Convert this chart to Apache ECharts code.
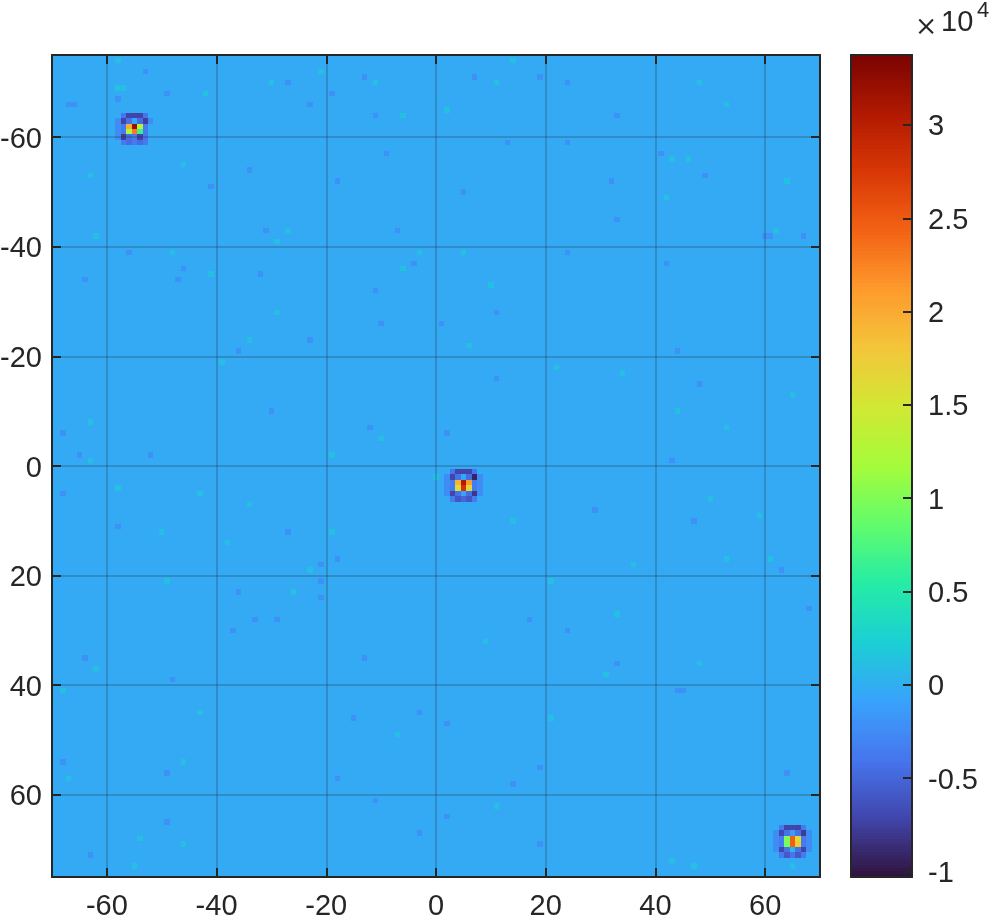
<!DOCTYPE html>
<html>
<head>
<meta charset="utf-8">
<title>heatmap</title>
<script src="https://cdn.jsdelivr.net/npm/echarts@6/dist/echarts.min.js"></script>
<style>
  html, body { margin: 0; padding: 0; background: #fff; }
  #main { width: 997px; height: 922px; }
</style>
</head>
<body>
<div id="main"></div>
<script>
// values are in units of 10^4, as on the colorbar
const xTicks = [-60, -40, -20, 0, 20, 40, 60];
const yTicks = [-60, -40, -20, 0, 20, 40, 60];
const barTicks = [-1, -0.5, 0, 0.5, 1, 1.5, 2, 2.5, 3];
const xRange = [-70, 70];
const yRange = [-75, 75];
const valueRange = [-1.03, 3.375];

// background level, and the cells that stand out from it in the picture
const baseLevel = -0.03;
const warmLevel = 0.12;
const coolLevel = -0.2;

// only the cells clear enough to read, the rest of the noise is left flat
const warmCells = [
  [-58,-74],[-58,-69],[-57,-69],[-42,-68],[-30,-70],[-11,-70],[-27,-43],[-29,-41],[-3,-39],[-6,-36],
  [-29,-28],[-34,-23],[-39,-19],[-63,-8],[-10,-5],[-63,-1],[-19,-2],[-63,-53],[-41,-35],[-48,-39],
  [-6,-64],[-46,-55],[-21,-72],[-62,-42],
  [14,-74],[2,-65],[11,-70],[48,-70],[53,-66],[43,-56],[46,-56],[64,-52],[42,-49],[62,-43],
  [10,-33],[22,-18],[65,-13],[34,-17],[53,-7],[44,-10],[6,-22],[5,-39],
  [-58,4],[-43,5],[-34,7],[-50,12],[-38,14],[-19,12],[-49,21],[-26,23],[-62,37],[-68,41],
  [-43,45],[-7,49],[-46,54],[-67,57],[-55,73],[-46,69],[0,2],[-23,19],[-54,68],
  [53,17],[36,18],[21,21],[14,10],[50,6],[33,27],[31,38],[48,36],[21,46],[11,62],
  [65,73],[47,73],[43,72],[9,32],[59,9],[61,17]
];
const coolCells = [
  [-67,-66],[-66,-66],[-58,-67],[-53,-72],[-49,-68],[-27,-70],[-23,-66],[-19,-68],[-13,-71],[-11,-64],
  [-34,-54],[-9,-57],[-18,-52],[-41,-51],[-31,-43],[-7,-43],[-46,-36],[-47,-34],[-32,-35],[-64,-34],
  [-11,-32],[-36,-21],[-23,-23],[-10,-26],[-30,-10],[-12,-7],[-65,-2],[-52,-2],[-68,-6],[-4,-37],[-56,-39],
  [7,-71],[19,-71],[24,-70],[33,-64],[13,-59],[24,-59],[41,-57],[49,-53],[32,-52],[5,-50],
  [33,-45],[60,-42],[61,-42],[67,-42],[24,-39],[42,-37],[11,-16],[48,-15],[2,-6],[1,-26],
  [11,-28],[44,-21],[43,-1],
  [-68,5],[-58,11],[-27,12],[-21,18],[-21,21],[-18,17],[-21,24],[-36,23],[-33,28],[-29,28],
  [-64,35],[-13,35],[-48,39],[-15,46],[-3,45],[-68,54],[-49,56],[-18,57],[-49,65],[-63,71],
  [-11,61],[-3,67],[-37,30],
  [17,28],[24,30],[33,36],[44,41],[45,41],[64,56],[19,55],[14,58],[2,47],[68,26],
  [29,8],[47,10],[63,19],[19,69],[2,64]
];

// the three peaks, read cell by cell
const peakTopLeft = [
  [-57,-64,-0.4],[-56,-64,-0.72],[-55,-64,-0.72],[-54,-64,-0.72],[-53,-64,-0.4],
  [-58,-63,-0.24],[-57,-63,-0.72],[-56,-63,-0.42],[-55,-63,-0.05],[-54,-63,-0.45],[-53,-63,-0.75],[-52,-63,-0.24],
  [-58,-62,-0.24],[-57,-62,-0.35],[-56,-62,2.0],[-55,-62,3.2],[-54,-62,1.3],[-53,-62,-0.35],
  [-58,-61,-0.24],[-57,-61,-0.35],[-56,-61,1.25],[-55,-61,2.3],[-54,-61,0.65],[-53,-61,-0.35],
  [-58,-60,-0.24],[-57,-60,-0.75],[-56,-60,-0.45],[-55,-60,-0.35],[-54,-60,-0.72],[-53,-60,-0.4],
  [-57,-59,-0.35],[-56,-59,-0.45],[-55,-59,-0.35],[-54,-59,-0.45],[-53,-59,-0.35]
];
const peakCentre = [
  [3,1,-0.4],[4,1,-0.72],[5,1,-0.72],[6,1,-0.72],[7,1,-0.4],
  [2,2,-0.24],[3,2,-0.72],[4,2,-0.42],[5,2,-0.05],[6,2,-0.45],[7,2,-0.92],[8,2,-0.24],
  [2,3,-0.24],[3,3,-0.35],[4,3,1.95],[5,3,3.05],[6,3,2.1],[7,3,-0.35],[8,3,-0.24],
  [2,4,-0.24],[3,4,-0.35],[4,4,1.6],[5,4,2.8],[6,4,1.65],[7,4,-0.35],[8,4,-0.24],
  [2,5,-0.24],[3,5,-0.72],[4,5,-0.42],[5,5,-0.1],[6,5,-0.45],[7,5,-0.8],[8,5,-0.24],
  [3,6,-0.35],[4,6,-0.6],[5,6,-0.5],[6,6,-0.6],[7,6,-0.35]
];
const peakBottomRight = [
  [63,66,-0.35],[64,66,-0.72],[65,66,-0.7],[66,66,-0.72],[67,66,-0.35],
  [62,67,-0.24],[63,67,-0.7],[64,67,-0.42],[65,67,-0.12],[66,67,-0.42],[67,67,-0.78],[68,67,-0.24],
  [62,68,-0.24],[63,68,-0.35],[64,68,1.0],[65,68,2.45],[66,68,1.6],[67,68,-0.35],[68,68,-0.24],
  [62,69,-0.24],[63,69,-0.35],[64,69,0.95],[65,69,2.45],[66,69,1.75],[67,69,-0.35],[68,69,-0.24],
  [62,70,-0.24],[63,70,-0.7],[64,70,-0.42],[65,70,0.05],[66,70,-0.42],[67,70,-0.72],[68,70,-0.24],
  [63,71,-0.35],[64,71,-0.58],[65,71,-0.4],[66,71,-0.58],[67,71,-0.35]
];

const turbo = ["#30123b","#4145ab","#4675ed","#39a2fc","#1bcfd4","#24eca6","#61fc6c","#a4fc3b","#d1e834","#f3c63a","#fe9b2d","#f36315","#d93806","#b11901","#7a0402"];

const textColor = "#262626";
const labelFont = "Liberation Sans";
const labelSize = 29;

// put the read cells into one table
const readCells = {};
warmCells.forEach(c => { readCells[c[0] + "," + c[1]] = warmLevel; });
coolCells.forEach(c => { readCells[c[0] + "," + c[1]] = coolLevel; });
[peakTopLeft, peakCentre, peakBottomRight].forEach(p => {
  p.forEach(c => { readCells[c[0] + "," + c[1]] = c[2]; });
});

const cells = [];
for (let y = yRange[0]; y <= yRange[1]; y++) {
  for (let x = xRange[0]; x <= xRange[1]; x++) {
    const v = readCells[x + "," + y];
    cells.push([x, y, v === undefined ? baseLevel : v]);
  }
}

// colorbar strip, one entry per colormap level
const barStep = (valueRange[1] - valueRange[0]) / 256;
const barLevels = [];
for (let i = 0; i < 256; i++) {
  const level = valueRange[0] + barStep * (i + 0.5);
  barLevels.push([0, level, level]);
}

function drawCell(params, api) {
  const x = api.value(0), y = api.value(1);
  const a = api.coord([x - 0.5, y - 0.5]);
  const b = api.coord([x + 0.5, y + 0.5]);
  const left = Math.round(a[0]), top = Math.round(a[1]);
  return {
    type: "rect",
    shape: { x: left, y: top, width: Math.round(b[0]) - left, height: Math.round(b[1]) - top },
    style: { fill: api.visual("color") }
  };
}

function drawBarLevel(params, api) {
  const a = api.coord([0, api.value(1) + barStep / 2]);
  const b = api.coord([1, api.value(1) - barStep / 2]);
  const top = Math.floor(a[1]);
  return {
    type: "rect",
    shape: { x: a[0], y: top, width: b[0] - a[0], height: Math.ceil(b[1]) - top },
    style: { fill: api.visual("color") }
  };
}

const frameLine = { show: true, onZero: false, lineStyle: { color: textColor, width: 2 } };
const tickMark = { show: true, inside: true, length: 9, lineStyle: { color: textColor, width: 2 } };
const gridLine = { show: true, lineStyle: { color: "rgba(38,38,38,0.22)", width: 2 } };
const tickText = { color: textColor, fontFamily: labelFont, fontSize: labelSize };
// labels sit a little under their ticks
const lowered = { verticalAlign: "top", lineHeight: 5 };

let myChart = echarts.init(document.getElementById("main"), null, { renderer: "canvas" });
let option = {
  animation: false,
  backgroundColor: "#fff",
  grid: [
    { left: 52, top: 55, width: 768, height: 822, outerBoundsMode: "none" },
    { left: 851, top: 55, width: 61, height: 822, outerBoundsMode: "none" }
  ],
  xAxis: [
    {
      type: "value", gridIndex: 0, position: "bottom", min: xRange[0], max: xRange[1], z: 10,
      axisLine: frameLine,
      axisTick: Object.assign({ customValues: xTicks }, tickMark),
      axisLabel: Object.assign({ customValues: xTicks, margin: 15 }, tickText),
      splitLine: Object.assign({ customValues: xTicks }, gridLine)
    },
    {
      type: "value", gridIndex: 0, position: "top", min: xRange[0], max: xRange[1], z: 10,
      axisLine: frameLine,
      axisTick: Object.assign({ customValues: xTicks }, tickMark),
      axisLabel: { show: false },
      splitLine: { show: false }
    },
    {
      type: "value", gridIndex: 1, position: "bottom", min: 0, max: 1, z: 10,
      axisLine: frameLine, axisTick: { show: false }, axisLabel: { show: false }, splitLine: { show: false }
    },
    {
      type: "value", gridIndex: 1, position: "top", min: 0, max: 1, z: 10,
      axisLine: frameLine, axisTick: { show: false }, axisLabel: { show: false }, splitLine: { show: false }
    }
  ],
  yAxis: [
    {
      type: "value", gridIndex: 0, position: "left", inverse: true, min: yRange[0], max: yRange[1], z: 10,
      axisLine: frameLine,
      axisTick: Object.assign({ customValues: yTicks }, tickMark),
      axisLabel: Object.assign({ customValues: yTicks, margin: 10 }, tickText, lowered),
      splitLine: Object.assign({ customValues: yTicks }, gridLine)
    },
    {
      type: "value", gridIndex: 0, position: "right", inverse: true, min: yRange[0], max: yRange[1], z: 10,
      axisLine: frameLine,
      axisTick: Object.assign({ customValues: yTicks }, tickMark),
      axisLabel: { show: false },
      splitLine: { show: false }
    },
    {
      type: "value", gridIndex: 1, position: "right", min: valueRange[0], max: valueRange[1], z: 10,
      axisLine: frameLine,
      axisTick: Object.assign({ customValues: barTicks }, tickMark),
      axisLabel: Object.assign({ customValues: barTicks, margin: 16, formatter: v => String(v) }, tickText, lowered),
      splitLine: { show: false }
    },
    {
      type: "value", gridIndex: 1, position: "left", min: valueRange[0], max: valueRange[1], z: 10,
      axisLine: frameLine, axisTick: { show: false }, axisLabel: { show: false }, splitLine: { show: false }
    }
  ],
  visualMap: {
    show: false,
    type: "continuous",
    seriesIndex: [0, 1],
    dimension: 2,
    min: valueRange[0],
    max: valueRange[1],
    inRange: { color: turbo }
  },
  series: [
    {
      type: "custom", xAxisIndex: 0, yAxisIndex: 0, renderItem: drawCell, clip: true,
      progressive: 0, silent: true, data: cells
    },
    {
      type: "custom", xAxisIndex: 2, yAxisIndex: 2, renderItem: drawBarLevel, clip: true,
      progressive: 0, silent: true, data: barLevels
    }
  ],
  graphic: [
    { type: "text", left: 915, top: 9, style: { text: "×", fill: textColor, font: "300 34px Inter" } },
    { type: "text", left: 941, top: 8, style: { text: "10", fill: textColor, font: "29px Liberation Sans" } },
    { type: "text", left: 977, top: 0, style: { text: "4", fill: textColor, font: "22px Liberation Sans" } }
  ]
};
myChart.setOption(option);
</script>
</body>
</html>
